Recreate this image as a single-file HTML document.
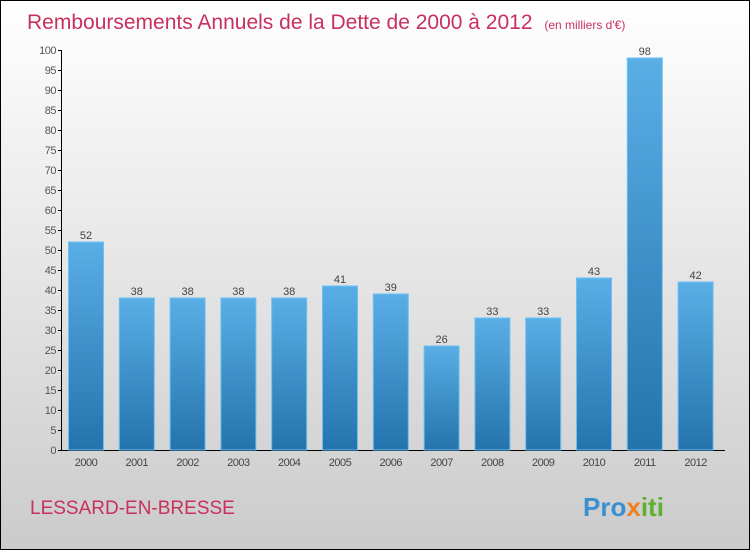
<!DOCTYPE html>
<html><head><meta charset="utf-8"><style>
body{margin:0;width:750px;height:550px;overflow:hidden;font-family:"Liberation Sans",sans-serif}
</style></head><body>
<svg id="c" width="750" height="550" xmlns="http://www.w3.org/2000/svg">
<defs>
<linearGradient id="bg" x1="0" y1="0" x2="0" y2="1"><stop offset="0" stop-color="#ffffff"/><stop offset="1" stop-color="#cbcbcb"/></linearGradient>
<linearGradient id="bar" x1="0" y1="0" x2="0" y2="1"><stop offset="0" stop-color="#5aaee6"/><stop offset="1" stop-color="#2473ad"/></linearGradient>
</defs>
<rect x="0.5" y="0.5" width="749" height="549" fill="url(#bg)" stroke="#000"/>
<text x="27" y="29" font-size="21" fill="#c8305e">Remboursements Annuels de la Dette de 2000 à 2012 <tspan font-size="12" dx="6">(en milliers d'€)</tspan></text>
<text x="30" y="514" font-size="19" fill="#c8305e">LESSARD-EN-BRESSE</text>
<text x="583" y="516" font-size="26" font-weight="bold" fill="#3a8fd0">Pro<tspan fill="#f08020">x</tspan><tspan fill="#60b030">iti</tspan></text>
<g id="plot"></g>
</svg>
<script>
const categories=["2000","2001","2002","2003","2004","2005","2006","2007","2008","2009","2010","2011","2012"];
const values=[52,38,38,38,38,41,39,26,33,33,43,98,42];
const yTicks=[0,5,10,15,20,25,30,35,40,45,50,55,60,65,70,75,80,85,90,95,100];
const NS="http://www.w3.org/2000/svg";
const g=document.getElementById('plot');
const y=v=>450-v*4;
const x=i=>86+i*50.8;
function mk(t,a){const e=document.createElementNS(NS,t);for(const k in a)e.setAttribute(k,a[k]);g.appendChild(e);return e;}
let ax=mk('line',{x1:61.5,y1:50,x2:61.5,y2:450.5,stroke:'#000'});


let bx=mk('line',{x1:61,y1:450.5,x2:725,y2:450.5,stroke:'#000'});


yTicks.forEach(v=>{
 const tk=mk('line',{x1:58,x2:62,y1:y(v)+.5,y2:y(v)+.5,stroke:'#000'});
 
 
 const t=mk('text',{x:56,y:y(v)+4,'font-size':11,'text-anchor':'end',fill:'#555','letter-spacing':'-0.5'});
 t.textContent=v;
 
 
});
categories.forEach((c,i)=>{
 const r=mk('rect',{x:x(i)-17.5,y:y(values[i]),width:35,height:values[i]*4,fill:'url(#bar)',stroke:'#6cc0f2','stroke-width':1});
 
 
 const v=mk('text',{x:x(i),y:y(values[i])-3,'font-size':11,'text-anchor':'middle',fill:'#444'});
 v.textContent=values[i];
 
 
 const l=mk('text',{x:x(i),y:466,'font-size':11,'text-anchor':'middle',fill:'#444','letter-spacing':'-0.5'});
 l.textContent=c;
 
 
});
</script>
</body></html>
